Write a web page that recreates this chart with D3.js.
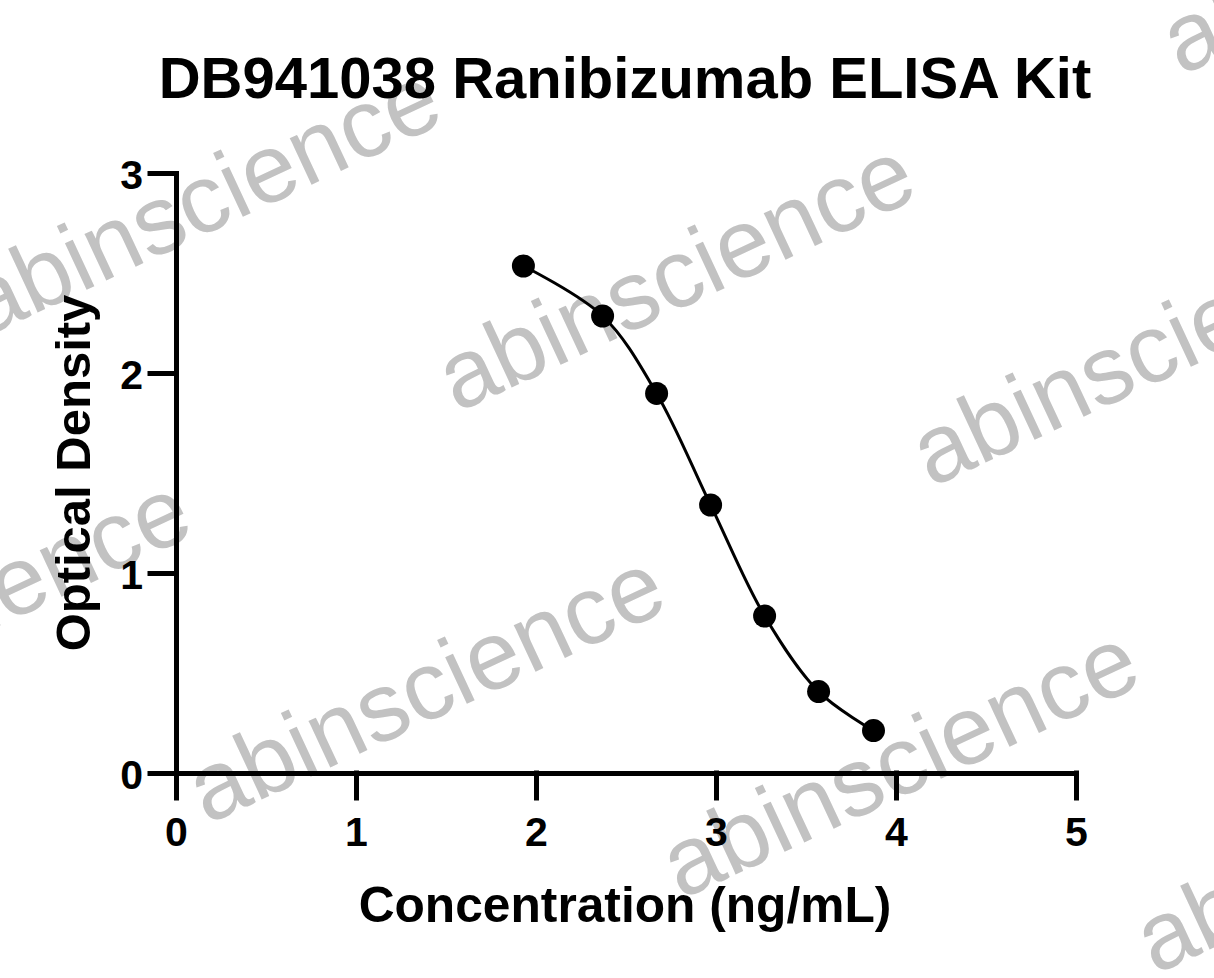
<!DOCTYPE html>
<html><head><meta charset="utf-8">
<script src="https://cdn.jsdelivr.net/npm/d3@7"></script>
<style>
body{margin:0;background:#fff}
svg{display:block}
text{font-family:"Liberation Sans",Arial,Helvetica,sans-serif}
</style>
</head><body>
<svg id="c" width="1214" height="978"></svg>
<script>
// ---- data ----
const chartTitle = "DB941038 Ranibizumab ELISA Kit";
const xTitle = "Concentration (ng/mL)";
const yTitle = "Optical Density";
const concentration = [1.93, 2.37, 2.67, 2.97, 3.27, 3.57, 3.875];
const opticalDensity = [2.535, 2.285, 1.898, 1.34, 0.785, 0.407, 0.212];
const xTicks = [0, 1, 2, 3, 4, 5];
const yTicks = [0, 1, 2, 3];
const watermarkText = "abinscience";

const W = 1214, H = 978;
const svg = d3.select("#c");
svg.append("rect").attr("width", W).attr("height", H).attr("fill", "#fff");

// ---- watermark tiling ----
const wm = svg.append("g");
const wmOrigin = [457, 413], wmU = [474, 75], wmV = [224, 487];
for (let i = -3; i <= 3; i++) {
  for (let j = -2; j <= 2; j++) {
    const px = wmOrigin[0] + i * wmU[0] + j * wmV[0];
    const py = wmOrigin[1] + i * wmU[1] + j * wmV[1];
    if (px < -650 || px > W + 50 || py < -60 || py > H + 320) continue;
    wm.append("text")
      .attr("transform", `translate(${px},${py}) rotate(-25)`)
      .attr("font-size", 97)
      .attr("fill", "#c2c2c2")
      .text(watermarkText);
  }
}

// ---- scales ----
const x = d3.scaleLinear().domain([0, 5]).range([176, 1076]);
const y = d3.scaleLinear().domain([0, 3]).range([773, 173]);

// ---- axes ----
const gx = svg.append("g").attr("transform", `translate(0,${y(0)})`)
  .call(d3.axisBottom(x).tickValues(xTicks).tickFormat(d3.format("d"))
    .tickSize(25).tickSizeOuter(0).tickPadding(19));
const gy = svg.append("g").attr("transform", `translate(${x(0)},0)`)
  .call(d3.axisLeft(y).tickValues(yTicks).tickFormat(d3.format("d"))
    .tickSize(26).tickSizeOuter(0).tickPadding(7));

[gx, gy].forEach(g => {
  g.select(".domain").attr("stroke", "#000").attr("stroke-width", 5).attr("stroke-linecap", "square");
  g.selectAll(".tick line").attr("stroke", "#000").attr("stroke-width", 5).attr("stroke-linecap", "square");
  g.selectAll(".tick text").attr("fill", "#000").attr("font-size", 41).attr("font-weight", "bold")
    .style("font-family", '"Liberation Sans",Arial,sans-serif');
});
gy.selectAll(".tick text").attr("dy", "0.37em");

// ---- curve & points ----
const pts = concentration.map((c, i) => [c, opticalDensity[i]]);
svg.append("path")
  .datum(pts)
  .attr("fill", "none")
  .attr("stroke", "#000")
  .attr("stroke-width", 3)
  .attr("d", d3.line().x(d => x(d[0])).y(d => y(d[1])).curve(d3.curveCatmullRom.alpha(0.5)));

svg.append("g").selectAll("circle").data(pts).join("circle")
  .attr("cx", d => x(d[0])).attr("cy", d => y(d[1])).attr("r", 11.5).attr("fill", "#000");

// ---- titles ----
svg.append("text").attr("x", 625).attr("y", 98).attr("text-anchor", "middle")
  .attr("font-size", 58).attr("font-weight", "bold").attr("fill", "#000").text(chartTitle);
svg.append("text").attr("x", 625).attr("y", 922).attr("text-anchor", "middle")
  .attr("font-size", 49.7).attr("font-weight", "bold").attr("fill", "#000").text(xTitle);
svg.append("text").attr("transform", "translate(90,473) rotate(-90)").attr("text-anchor", "middle")
  .attr("font-size", 49).attr("font-weight", "bold").attr("fill", "#000").text(yTitle);
</script>
</body></html>
